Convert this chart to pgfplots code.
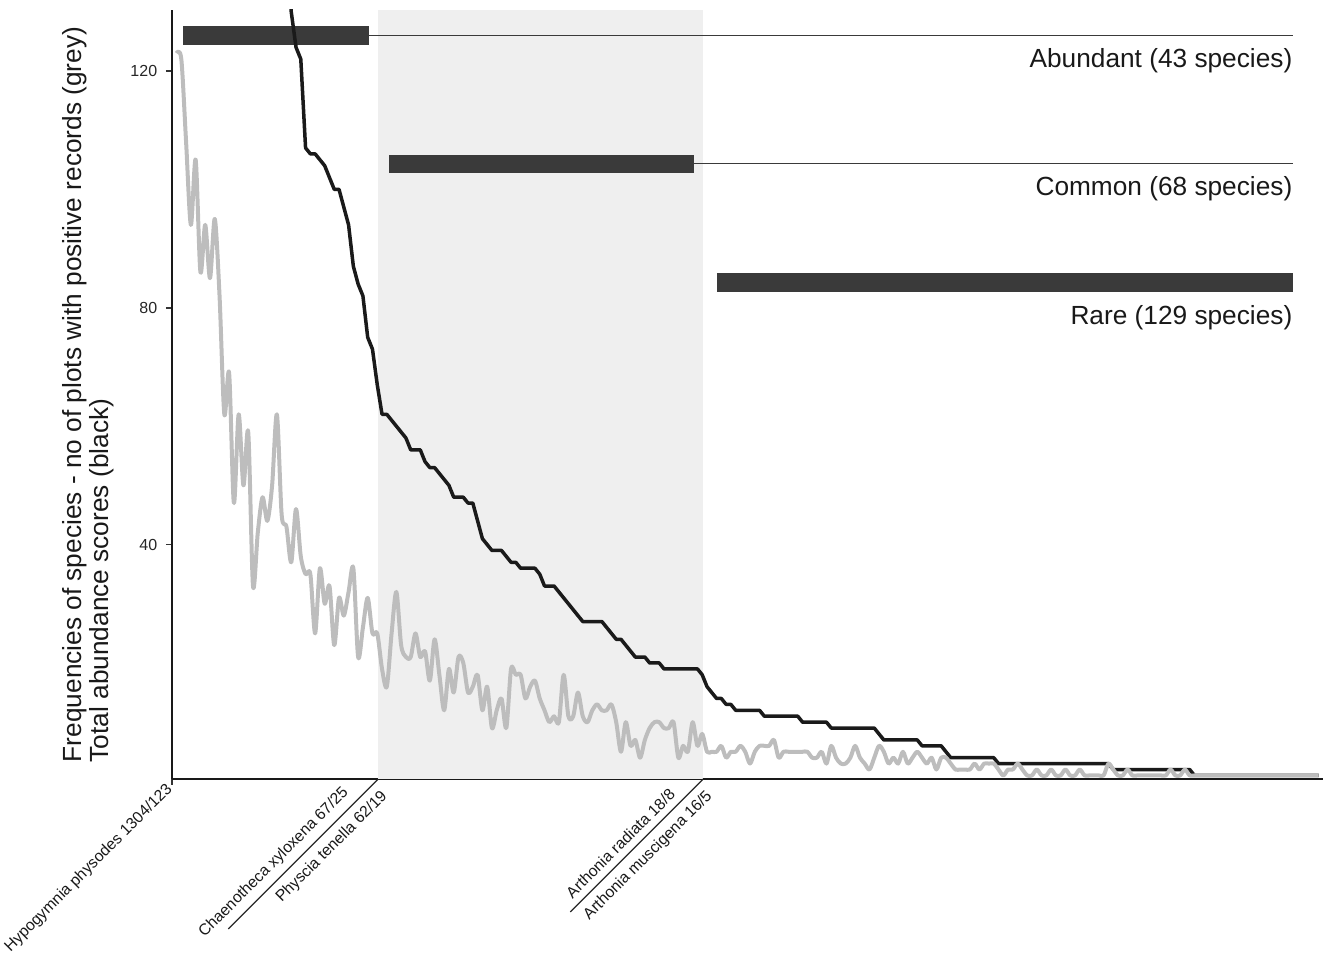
\documentclass[border=0pt]{standalone}
\usepackage{fontspec}
\setmainfont{Liberation Sans}
\usepackage{pgfplots}
\pgfplotsset{compat=1.18}
\usepackage{pgfplotstable}
\definecolor{greyline}{HTML}{BDBDBD}
\definecolor{blackline}{HTML}{1A1A1A}
\definecolor{barcol}{HTML}{3A3A3A}
\definecolor{shadecol}{HTML}{EFEFEF}

\pgfplotstableread{
rank freq abund
1 123 1304
2 122 820
3 108 620
4 94 510
5 105 440
6 86 390
7 94 350
8 85 320
9 95 295
10 82 275
11 62 258
12 69 243
13 47 230
14 62 218
15 50 208
16 59 199
17 33 191
18 42 183
19 48 176
20 44 170
21 50 164
22 62 158
23 45 152
24 43 145
25 37 130
26 46 124
27 38 122
28 35 107
29 35 106
30 25 106
31 36 105
32 30 104
33 33 102
34 23 100
35 31 100
36 28 97
37 32 94
38 36 87
39 21 84
40 26 82
41 31 75
42 25 73
43 25 67
44 19 62
45 16 62
46 25 61
47 32 60
48 23 59
49 21 58
50 21 56
51 25 56
52 21 56
53 22 54
54 17 53
55 24 53
56 18 52
57 12 51
58 19 50
59 15 48
60 21 48
61 20 48
62 15 47
63 16 47
64 18 44
65 12 41
66 16 40
67 9 39
68 12 39
69 14 39
70 9 38
71 19 37
72 18 37
73 18 36
74 14 36
75 16 36
76 17 36
77 14 35
78 12 33
79 10 33
80 11 33
81 10 32
82 18 31
83 11 30
84 11 29
85 15 28
86 11 27
87 10 27
88 12 27
89 13 27
90 12 27
91 12 26
92 13 25
93 10 24
94 5 24
95 10 23
96 6 22
97 7 21
98 4 21
99 7 21
100 9 20
101 10 20
102 10 20
103 9 19
104 9 19
105 10 19
106 4 19
107 6 19
108 5 19
109 10 19
110 6 19
111 8 18
112 5 16
113 5 15
114 5 14
115 6 14
116 4 13
117 5 13
118 5 12
119 6 12
120 5 12
121 3 12
122 5 12
123 6 12
124 6 11
125 6 11
126 7 11
127 4 11
128 5 11
129 5 11
130 5 11
131 5 11
132 5 10
133 5 10
134 4 10
135 4 10
136 5 10
137 3 10
138 6 9
139 4 9
140 3 9
141 3 9
142 4 9
143 6 9
144 4 9
145 3 9
146 2 9
147 4 9
148 6 8
149 5 7
150 3 7
151 4 7
152 3 7
153 5 7
154 3 7
155 4 7
156 5 7
157 4 6
158 3 6
159 4 6
160 2 6
161 4 6
162 4 5
163 3 4
164 2 4
165 2 4
166 2 4
167 2 4
168 3 4
169 2 4
170 3 4
171 3 4
172 3 4
173 2 3
174 1 3
175 2 3
176 2 3
177 3 3
178 2 3
179 1 3
180 1 3
181 2 3
182 1 3
183 1 3
184 2 3
185 1 3
186 1 3
187 2 3
188 1 3
189 1 3
190 2 3
191 1 3
192 1 3
193 1 3
194 1 3
195 1 3
196 3 3
197 2 2
198 1 2
199 1 2
200 2 2
201 1 2
202 1 2
203 1 2
204 1 2
205 1 2
206 1 2
207 1 2
208 1 2
209 2 2
210 1 2
211 1 2
212 2 2
213 1 2
214 1 1
215 1 1
216 1 1
217 1 1
218 1 1
219 1 1
220 1 1
221 1 1
222 1 1
223 1 1
224 1 1
225 1 1
226 1 1
227 1 1
228 1 1
229 1 1
230 1 1
231 1 1
232 1 1
233 1 1
234 1 1
235 1 1
236 1 1
237 1 1
238 1 1
239 1 1
240 1 1
}\speciestable

\begin{document}
\begin{tikzpicture}
\begin{axis}[
  scale only axis,
  width=460.4pt, height=307.6pt,
  xmin=0.05, xmax=240.9, ymin=0.4, ymax=130.3,
  axis x line*=bottom, axis y line*=left,
  axis line style={line width=0.8pt, color=black!90, -},
  ytick={40,80,120},
  xtick={0.05},
  xticklabels={Hypogymnia physodes 1304/123},
  tick align=outside,
  major tick length=2.4pt,
  tick style={line width=0.6pt, color=black!80},
  yticklabel style={font=\fontsize{6.4}{7}\selectfont, color=black!85},
  xticklabel style={font=\fontsize{6.3}{7}\selectfont, rotate=45, anchor=east, inner sep=1pt, color=black!90},
  /pgf/number format/assume math mode=true,
  ylabel={Frequencies of species - no of plots with positive records (grey)\\Total abundance scores (black)},
  ylabel style={align=left, font=\fontsize{10.5}{10.8}\selectfont, at={(axis description cs:-0.0504,0.5)}, anchor=south, inner sep=0pt, color=black!90},
]
\fill[shadecol] (axis cs:43.2,0.4) rectangle (axis cs:111.2,130.3);
\addplot[barcol, line width=0.45pt, forget plot] coordinates {(41.27,126) (234.58,126)};
\addplot[barcol, line width=0.45pt, forget plot] coordinates {(109.27,104.3) (234.58,104.3)};
\addplot[barcol, line width=7.4pt, forget plot] coordinates {(2.36,126) (41.27,126)};
\addplot[barcol, line width=7.4pt, forget plot] coordinates {(45.46,104.3) (109.27,104.3)};
\addplot[barcol, line width=7.4pt, forget plot] coordinates {(114.08,84.3) (234.58,84.3)};
\addplot[blackline, line width=1.4pt, line join=round] table[x=rank, y=abund] {\speciestable};
\addplot[greyline, line width=1.6pt, smooth, line join=round] table[x=rank, y=freq] {\speciestable};
\node[anchor=east, inner sep=0pt, font=\fontsize{10.5}{12}\selectfont, color=black!90] at (axis cs:234.58,121.7) {Abundant (43 species)};
\node[anchor=east, inner sep=0pt, font=\fontsize{10.5}{12}\selectfont, color=black!90] at (axis cs:234.58,100.1) {Common (68 species)};
\node[anchor=east, inner sep=0pt, font=\fontsize{10.5}{12}\selectfont, color=black!90] at (axis cs:234.58,78.3) {Rare (129 species)};
\coordinate (L1) at (axis cs:43.2,0.4);
\coordinate (L2) at (axis cs:111.2,0.4);
\coordinate (SW) at (rel axis cs:0,0);
\coordinate (NE) at (rel axis cs:1,1);
\end{axis}
\draw[line width=0.5pt, black!85] (L1) -- +(225:84.8pt);
\draw[line width=0.5pt, black!85] (L2) -- +(225:75.2pt);
\node[rotate=45, anchor=south east, inner sep=1.2pt, font=\fontsize{6.3}{7}\selectfont, color=black!90] at ([shift={(-8.84pt,-6.72pt)}]L1) {Chaenotheca xyloxena 67/25};
\node[rotate=45, anchor=north east, inner sep=1.2pt, font=\fontsize{6.3}{7}\selectfont, color=black!90] at ([shift={(0.56pt,-1.98pt)}]L1) {Physcia tenella 62/19};
\node[rotate=45, anchor=south east, inner sep=1.2pt, font=\fontsize{6.3}{7}\selectfont, color=black!90] at ([shift={(-8.84pt,-6.72pt)}]L2) {Arthonia radiata 18/8};
\node[rotate=45, anchor=north east, inner sep=1.2pt, font=\fontsize{6.3}{7}\selectfont, color=black!90] at ([shift={(0.56pt,-1.98pt)}]L2) {Arthonia muscigena 16/5};
\pgfresetboundingbox
\path ([shift={(-68.8pt,-70pt)}]SW) rectangle ([shift={(0pt,4pt)}]NE);
\end{tikzpicture}
\end{document}
